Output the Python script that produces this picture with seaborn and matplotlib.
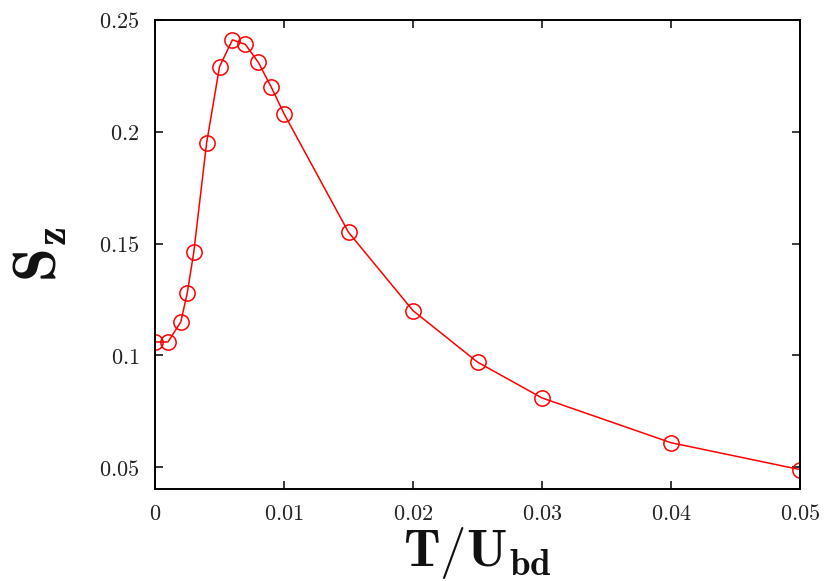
import matplotlib
matplotlib.use("Agg")
import matplotlib.pyplot as plt
from matplotlib.ticker import FixedLocator, FuncFormatter
import seaborn as sns
import pandas as pd

# Temperature (in units of U_bd) and the corresponding S_z values
temperature = [0.0, 0.001, 0.002, 0.0025, 0.003, 0.004, 0.005, 0.006, 0.007,
               0.008, 0.009, 0.010, 0.015, 0.020, 0.025, 0.030, 0.040, 0.050]
sz_values = [0.106, 0.106, 0.115, 0.128, 0.146, 0.195, 0.229, 0.241, 0.239,
             0.231, 0.220, 0.208, 0.155, 0.120, 0.097, 0.081, 0.061, 0.049]

x_ticks = [0, 0.01, 0.02, 0.03, 0.04, 0.05]
y_ticks = [0.05, 0.1, 0.15, 0.2, 0.25]

df = pd.DataFrame({"T": temperature, "Sz": sz_values})

sns.set_theme(style="ticks")
plt.rcParams["mathtext.fontset"] = "cm"
plt.rcParams["font.family"] = ["DejaVu Serif"]

fig = plt.figure(figsize=(8.26, 5.81), dpi=100)
ax = fig.add_axes([0.1877, 0.1583, 0.7808, 0.8078])

sns.lineplot(data=df, x="T", y="Sz", ax=ax, color="#ff0000", linewidth=1.1,
             marker="o", markersize=11, markerfacecolor="none",
             markeredgecolor="#ff0000", markeredgewidth=1.1)

ax.set_xlim(0, 0.05)
ax.set_ylim(0.0403, 0.25)
ax.xaxis.set_major_locator(FixedLocator(x_ticks))
ax.yaxis.set_major_locator(FixedLocator(y_ticks))
fmt = FuncFormatter(lambda v, pos: r"$%s$" % ("%g" % v))
ax.xaxis.set_major_formatter(fmt)
ax.yaxis.set_major_formatter(fmt)

ax.tick_params(direction="in", length=6, width=1.1, top=True, right=True,
               labelsize=16, color="black", labelcolor="#222222")
ax.tick_params(axis="y", pad=11)
ax.tick_params(axis="x", pad=10)
for s in ax.spines.values():
    s.set_visible(True)
    s.set_linewidth(1.4)
    s.set_color("black")

ax.set_xlabel(r"$\mathbf{T/U_{bd}}$", fontsize=38, labelpad=0, color="#111111")
ax.set_ylabel(r"$\mathbf{S_z}$", fontsize=44, labelpad=22, color="#111111")

fig.savefig("out.png", dpi=100)
